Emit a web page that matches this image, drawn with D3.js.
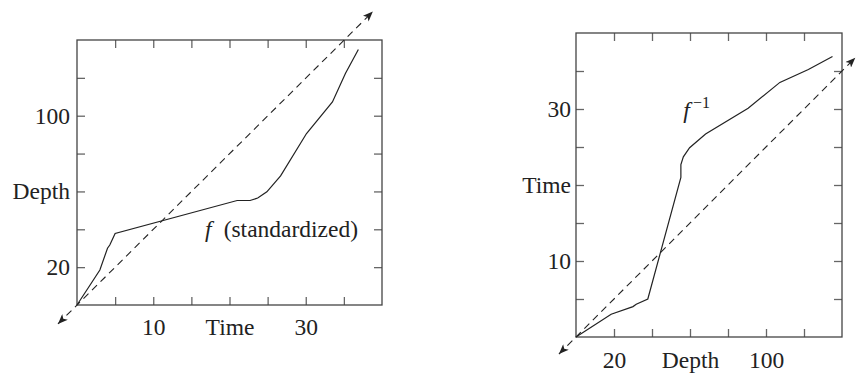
<!DOCTYPE html>
<html>
<head>
<meta charset="utf-8">
<script src="https://cdn.jsdelivr.net/npm/d3@7"></script>
<style>
  body { margin: 0; background: #fff; }
  svg { display: block; }
  text { font-family: "Liberation Serif", "Times New Roman", serif; fill: #222; }
  .tick line { stroke: #666; stroke-width: 1.3; }
  .box { fill: none; stroke: #444; stroke-width: 1.3; }
  .curve { fill: none; stroke: #222; stroke-width: 1.2; }
  .diag { fill: none; stroke: #222; stroke-width: 1.1; stroke-dasharray: 7 5; }
</style>
</head>
<body>
<svg id="chart" width="856" height="375"></svg>
<script>
// standardized f : time -> depth
const fTime = [0, 3, 4, 4.3, 5, 21, 22.7, 23.7, 24.9, 26.7, 30.1, 33.5, 35.2, 36.9];
const fDepth = [0, 18.5, 30, 31.7, 37.8, 55.2, 55.2, 56.5, 59.8, 68.2, 90.6, 107.3, 122.3, 135];

// dashed reference line, ends at the arrowheads
const diagTimeL = [-2.5, 38.8];
const diagDepthL = [-10, 155];
const diagDepthR = [-9, 147];
const diagTimeR = [-2.25, 36.75];

// ticks and labels
const timeTicks = [5, 10, 15, 20, 25, 30, 35];
const depthTicks = [20, 40, 60, 80, 100, 120];
const timeLabelAt = [10, 20, 30];
const timeLabelText = ['10', 'Time', '30'];
const depthLabelAt = [20, 60, 100];
const depthLabelText = ['20', 'Depth', '100'];

const timeDomain = [0, 40];
const depthDomain = [0, 140];

const svg = d3.select('#chart');
const fontSize = 23.5;

function labelFmt(at, txt) {
  return d => {
    const i = at.indexOf(d);
    return i < 0 ? '' : txt[i];
  };
}

// arrowhead marker
svg.append('defs').append('marker')
  .attr('id', 'arrow')
  .attr('viewBox', '0 0 10 8')
  .attr('refX', 10).attr('refY', 4)
  .attr('markerWidth', 11).attr('markerHeight', 8)
  .attr('markerUnits', 'userSpaceOnUse')
  .attr('orient', 'auto-start-reverse')
  .append('path')
  .attr('d', 'M0,0 L10,4 L0,8 L2.5,4 Z')
  .attr('fill', '#222');

function panel(opts) {
  const x = d3.scaleLinear().domain(opts.xDomain).range(opts.xRange);
  const y = d3.scaleLinear().domain(opts.yDomain).range(opts.yRange);
  const g = svg.append('g');
  const tick = 8;

  const bottom = d3.axisBottom(x).tickValues(opts.xTicks).tickSizeInner(-tick).tickSizeOuter(0)
    .tickPadding(opts.padBottom).tickFormat(labelFmt(opts.xLabelAt, opts.xLabelText));
  const top = d3.axisTop(x).tickValues(opts.xTicks).tickSizeInner(-tick).tickSizeOuter(0).tickFormat('');
  const left = d3.axisLeft(y).tickValues(opts.yTicks).tickSizeInner(-tick).tickSizeOuter(0)
    .tickPadding(opts.padLeft).tickFormat(labelFmt(opts.yLabelAt, opts.yLabelText));
  const right = d3.axisRight(y).tickValues(opts.yTicks).tickSizeInner(-tick).tickSizeOuter(0).tickFormat('');

  const axes = [
    [bottom, `translate(0,${opts.yRange[0]})`],
    [top, `translate(0,${opts.yRange[1]})`],
    [left, `translate(${opts.xRange[0]},0)`],
    [right, `translate(${opts.xRange[1]},0)`]
  ];
  axes.forEach(([ax, tr]) => {
    const a = g.append('g').attr('transform', tr).call(ax);
    a.select('.domain').remove();
    a.selectAll('text')
      .attr('font-size', fontSize)
      .attr('fill', '#222');
  });

  g.append('rect').attr('class', 'box')
    .attr('x', opts.xRange[0]).attr('y', opts.yRange[1])
    .attr('width', opts.xRange[1] - opts.xRange[0])
    .attr('height', opts.yRange[0] - opts.yRange[1]);

  // dashed diagonal
  const diag = opts.diagX.map((v, i) => [v, opts.diagY[i]]);
  g.append('path').attr('class', 'diag')
    .attr('d', d3.line().x(d => x(d[0])).y(d => y(d[1]))(diag))
    .attr('marker-start', 'url(#arrow)')
    .attr('marker-end', 'url(#arrow)');

  // curve
  const pts = opts.cx.map((v, i) => [v, opts.cy[i]]);
  g.append('path').attr('class', 'curve')
    .attr('d', d3.line().x(d => x(d[0])).y(d => y(d[1]))(pts));

  return { g, x, y };
}

// left: f (time -> depth)
const L = panel({
  xDomain: timeDomain, yDomain: depthDomain,
  xRange: [77, 382], yRange: [305, 40],
  xTicks: timeTicks, yTicks: depthTicks,
  xLabelAt: timeLabelAt, xLabelText: timeLabelText,
  yLabelAt: depthLabelAt, yLabelText: depthLabelText,
  padBottom: 13, padLeft: 7,
  diagX: diagTimeL, diagY: diagDepthL,
  cx: fTime, cy: fDepth
});

const lab1 = L.g.append('text')
  .attr('x', L.x(16.8)).attr('y', L.y(36.1))
  .attr('font-size', fontSize);
lab1.append('tspan').attr('font-style', 'italic').text('f');
lab1.append('tspan').attr('dx', 12).text('(standardized)');

// right: f^-1 (depth -> time)
const R = panel({
  xDomain: depthDomain, yDomain: timeDomain,
  xRange: [576, 842], yRange: [337, 33],
  xTicks: depthTicks, yTicks: timeTicks,
  xLabelAt: depthLabelAt, xLabelText: depthLabelText,
  yLabelAt: timeLabelAt, yLabelText: timeLabelText,
  padBottom: 14, padLeft: 5,
  diagX: diagDepthR, diagY: diagTimeR,
  cx: fDepth, cy: fTime
});

const lab2 = R.g.append('text')
  .attr('x', R.x(56.5)).attr('y', R.y(28.8))
  .attr('font-size', fontSize);
lab2.append('tspan').attr('font-style', 'italic').text('f');
lab2.append('tspan').attr('dx', 3).attr('dy', -10).attr('font-size', 16).text('\u22121');
</script>
</body>
</html>
